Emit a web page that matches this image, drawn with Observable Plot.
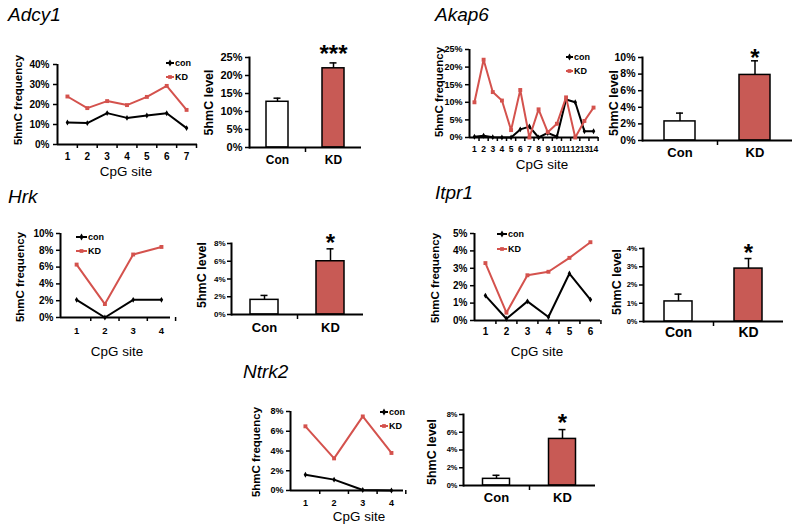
<!DOCTYPE html>
<html><head><meta charset="utf-8">
<script src="https://cdn.jsdelivr.net/npm/d3@7"></script>
<script src="https://cdn.jsdelivr.net/npm/@observablehq/plot@0.6"></script>
<style>
body{margin:0;background:#fff;}
#fig{position:relative;width:800px;height:530px;overflow:hidden;background:#fff;}
</style></head><body><div id="fig"></div>
<script>
// ---------- data ----------
const groups = ["Con", "KD"];
const seriesNames = ["con", "KD"];

const adcy1Sites = [1, 2, 3, 4, 5, 6, 7];
const adcy1Con = [11.0, 10.7, 15.7, 13.3, 14.5, 15.6, 8.2];
const adcy1KD = [24.0, 18.2, 21.7, 19.7, 23.8, 29.3, 17.3];
const adcy1Level = [12.7, 22.0];
const adcy1Err = [1.0, 1.5];
const adcy1Sig = ["", "***"];
const adcy1FreqTicks = [0, 10, 20, 30, 40];
const adcy1LevelTicks = [0, 5, 10, 15, 20, 25];

const akap6Sites = [1, 2, 3, 4, 5, 6, 7, 8, 9, 10, 11, 12, 13, 14];
const akap6Con = [0.2, 0.5, 0.1, 0, 0, 2.3, 3.1, 0, 1.3, 0.2, 10.8, 10.0, 1.8, 1.8];
const akap6KD = [10.0, 22.1, 12.9, 10.5, 2.1, 13.5, 0, 8.0, 1.5, 3.9, 11.4, 0, 4.7, 8.5];
const akap6Level = [2.3, 7.9];
const akap6Err = [1.0, 1.7];
const akap6Sig = ["", "*"];
const akap6FreqTicks = [0, 5, 10, 15, 20, 25];
const akap6LevelTicks = [0, 2, 4, 6, 8, 10];

const hrkSites = [1, 2, 3, 4];
const hrkCon = [2.1, 0, 2.1, 2.1];
const hrkKD = [6.3, 1.6, 7.5, 8.4];
const hrkLevel = [1.65, 6.0];
const hrkErr = [0.5, 1.4];
const hrkSig = ["", "*"];
const hrkFreqTicks = [0, 2, 4, 6, 8, 10];
const hrkLevelTicks = [0, 2, 4, 6, 8];

const itpr1Sites = [1, 2, 3, 4, 5, 6];
const itpr1Con = [1.43, 0.1, 1.1, 0.2, 2.7, 1.2];
const itpr1KD = [3.3, 0.45, 2.6, 2.8, 3.6, 4.5];
const itpr1Level = [1.1, 2.9];
const itpr1Err = [0.4, 0.55];
const itpr1Sig = ["", "*"];
const itpr1FreqTicks = [0, 1, 2, 3, 4, 5];
const itpr1LevelTicks = [0, 1, 2, 3, 4];

const ntrk2Sites = [1, 2, 3, 4];
const ntrk2Con = [1.6, 1.1, 0.05, 0];
const ntrk2KD = [6.5, 3.25, 7.5, 3.8];
const ntrk2Level = [0.75, 5.25];
const ntrk2Err = [0.4, 1.05];
const ntrk2Sig = ["", "*"];
const ntrk2FreqTicks = [0, 2, 4, 6, 8];
const ntrk2LevelTicks = [0, 2, 4, 6, 8];

// ---------- style ----------
const FONT = "'Liberation Sans', Arial, sans-serif";
const RED = "#d4524d";
const BARRED = "#c85a55";
const fig = document.getElementById("fig");

function place(svg, left, top) {
  svg.style.position = "absolute";
  svg.style.left = left + "px";
  svg.style.top = top + "px";
  svg.style.overflow = "visible";
  svg.style.maxWidth = "none";
  fig.appendChild(svg);
}

function linePanel(sites, con, kd, yTicks, L) {
  const ml = 36, mr = 6, mt = 6, mb = 26;
  const width = L.x1 - L.x0 + ml + mr;
  const height = L.yBot - L.yTop + mt + mb;
  const rows = sites.map((s, i) => ({site: s, con: con[i], kd: kd[i]}));
  const bounds = sites.map(s => s + 0.5);
  const ymax = yTicks[yTicks.length - 1];
  const svg = Plot.plot({
    width, height, marginLeft: ml, marginRight: mr, marginTop: mt, marginBottom: mb,
    style: {fontFamily: FONT, background: "transparent", color: "black"},
    x: {domain: L.xd},
    y: {domain: [0, ymax]},
    marks: [
      Plot.axisY({ticks: yTicks, tickFormat: d => d + "%", tickSize: 4, tickPadding: L.ypad, fontSize: L.yfs, fontWeight: "bold", strokeWidth: 1.5, label: null}),
      Plot.axisX({ticks: sites, tickFormat: d => String(d), tickSize: 0, tickPadding: L.xpad, fontSize: L.xfs, fontWeight: "bold", label: null}),
      Plot.axisX({ticks: bounds, tickFormat: () => "", tickSize: 4, strokeWidth: 1.5, label: null}),
      Plot.ruleY([0], {stroke: "black", strokeWidth: 2}),
      Plot.ruleX([L.xd[0]], {y1: 0, y2: ymax, stroke: "black", strokeWidth: 2}),
      Plot.line(rows, {x: "site", y: "con", stroke: "black", strokeWidth: 2}),
      Plot.dot(rows, {x: "site", y: "con", r: 1.8, fill: "black", symbol: "diamond"}),
      Plot.line(rows, {x: "site", y: "kd", stroke: RED, strokeWidth: 2}),
      Plot.dot(rows, {x: "site", y: "kd", r: 2.2, fill: RED, symbol: "square"})
    ]
  });
  place(svg, L.x0 - ml, L.yTop - mt);
}

function barPanel(level, err, sig, yTicks, L) {
  const ml = 36, mr = 6, mt = 30, mb = 26;
  const width = 2 * L.step + ml + mr;
  const height = L.yBot - L.yTop + mt + mb;
  const rows = groups.map((g, i) => ({g, v: level[i], top: level[i] + err[i], sig: sig[i]}));
  const ymax = yTicks[yTicks.length - 1];
  const barInset = (L.step - L.bw) / 2;
  const capInset = (L.step - L.cap) / 2;
  const svg = Plot.plot({
    width, height, marginLeft: ml, marginRight: mr, marginTop: mt, marginBottom: mb,
    style: {fontFamily: FONT, background: "transparent", color: "black"},
    x: {domain: groups, padding: 0},
    y: {domain: [0, ymax]},
    color: {domain: groups, range: ["white", BARRED]},
    marks: [
      Plot.barY(rows, {x: "g", y: "v", fill: "g", stroke: "black", strokeWidth: 1.5, insetLeft: barInset, insetRight: barInset}),
      Plot.ruleX(rows, {x: "g", y1: "v", y2: "top", stroke: "black", strokeWidth: 1.5}),
      Plot.tickY(rows, {x: "g", y: "top", stroke: "black", strokeWidth: 1.5, insetLeft: capInset, insetRight: capInset}),
      Plot.text(rows, {x: "g", y: "top", text: "sig", fontSize: 24, fontWeight: "bold", lineAnchor: "middle", dy: L.starDy}),
      Plot.axisY({ticks: yTicks, tickFormat: d => d + "%", tickSize: 4, tickPadding: L.ypad, fontSize: L.yfs, fontWeight: "bold", strokeWidth: 1.5, label: null}),
      Plot.axisX({tickSize: 0, tickPadding: L.xpad, fontSize: L.xfs, fontWeight: "bold", label: null}),
      Plot.ruleY([0], {stroke: "black", strokeWidth: 2}),
      Plot.frame({anchor: "left", stroke: "black", strokeWidth: 2}),
      Plot.ruleX([groups[1]], {y1: 0, y2: 0, dx: -L.step / 2, insetTop: 5, stroke: "black", strokeWidth: 1.5})
    ]
  });
  place(svg, L.x0 - ml, L.yTop - mt);
}

// ---------- panels ----------
linePanel(adcy1Sites, adcy1Con, adcy1KD, adcy1FreqTicks,
  {x0: 57, x1: 197, yTop: 64, yBot: 144, xd: [0.5, 7.55], yfs: 10, ypad: 4, xfs: 10, xpad: 8});
barPanel(adcy1Level, adcy1Err, adcy1Sig, adcy1LevelTicks,
  {x0: 249, step: 56, bw: 22, cap: 7, yTop: 57, yBot: 147, yfs: 11, ypad: 3, xfs: 12, xpad: 8, starDy: -9});

linePanel(akap6Sites, akap6Con, akap6KD, akap6FreqTicks,
  {x0: 469, x1: 598, yTop: 49, yBot: 137, xd: [0.46, 14.54], yfs: 9, ypad: 3, xfs: 8.5, xpad: 8});
barPanel(akap6Level, akap6Err, akap6Sig, akap6LevelTicks,
  {x0: 642, step: 75, bw: 31, cap: 7, yTop: 57, yBot: 140, yfs: 10.5, ypad: 3, xfs: 13, xpad: 7, starDy: -3});

linePanel(hrkSites, hrkCon, hrkKD, hrkFreqTicks,
  {x0: 60, x1: 170, yTop: 233, yBot: 317, xd: [0.43, 4.32], yfs: 10, ypad: 3, xfs: 9.5, xpad: 10});
barPanel(hrkLevel, hrkErr, hrkSig, hrkLevelTicks,
  {x0: 231, step: 66, bw: 28, cap: 7, yTop: 243, yBot: 314, yfs: 8, ypad: 2, xfs: 13, xpad: 8, starDy: -6});

linePanel(itpr1Sites, itpr1Con, itpr1KD, itpr1FreqTicks,
  {x0: 474, x1: 600, yTop: 233, yBot: 320, xd: [0.48, 6.48], yfs: 10, ypad: 3, xfs: 10, xpad: 7});
barPanel(itpr1Level, itpr1Err, itpr1Sig, itpr1LevelTicks,
  {x0: 643, step: 70, bw: 28, cap: 7, yTop: 248, yBot: 321, yfs: 7.5, ypad: 2, xfs: 14, xpad: 6, starDy: -5});

linePanel(ntrk2Sites, ntrk2Con, ntrk2KD, ntrk2FreqTicks,
  {x0: 290, x1: 403, yTop: 411, yBot: 490, xd: [0.48, 4.42], yfs: 9, ypad: 3, xfs: 9, xpad: 9});
barPanel(ntrk2Level, ntrk2Err, ntrk2Sig, ntrk2LevelTicks,
  {x0: 463, step: 66, bw: 27, cap: 7, yTop: 414, yBot: 485, yfs: 7.5, ypad: 2, xfs: 13, xpad: 7, starDy: -6});

// ---------- text overlay: titles, axis titles, legends ----------
const overlay = d3.create("svg").attr("width", 800).attr("height", 530)
  .style("position", "absolute").style("left", "0px").style("top", "0px")
  .style("font-family", FONT);
fig.insertBefore(overlay.node(), fig.firstChild);

function txt(s, x, y, o = {}) {
  overlay.append("text")
    .attr("transform", `translate(${x},${y})${o.rot ? " rotate(-90)" : ""}${o.sx ? ` scale(${o.sx},1)` : ""}`)
    .attr("font-size", o.size)
    .attr("font-weight", o.weight || "normal")
    .attr("font-style", o.italic ? "italic" : "normal")
    .attr("text-anchor", o.anchor || "start")
    .attr("fill", "black")
    .text(s);
}

[["Adcy1", 8, 21], ["Akap6", 435, 21], ["Hrk", 8, 203], ["Itpr1", 435, 198.5], ["Ntrk2", 243, 378]]
  .forEach(([s, x, y]) => txt(s, x, y, {size: 19, italic: true}));

[[22, 100], [443, 92], [24, 277], [439, 278], [260, 452]]
  .forEach(([x, y]) => txt("5hmC frequency", x, y, {size: 11.5, weight: "bold", rot: true, anchor: "middle"}));
[[213, 102.5], [618, 103], [206, 275], [621, 282], [436, 452]]
  .forEach(([x, y]) => txt("5hmC level", x, y, {size: 12.5, weight: "bold", rot: true, anchor: "middle"}));

[[126, 176], [542, 168.5], [117, 356], [537, 356], [359, 521]]
  .forEach(([x, y]) => txt("CpG site", x, y, {size: 12, anchor: "middle", sx: 1.12}));

function legend(x, y1, y2, w) {
  [[y1, "black", "diamond"], [y2, RED, "square"]].forEach(([y, c, sym], i) => {
    overlay.append("line").attr("x1", x).attr("x2", x + w).attr("y1", y).attr("y2", y)
      .attr("stroke", c).attr("stroke-width", 2);
    overlay.append("path").attr("transform", `translate(${x + w / 2},${y})`)
      .attr("d", d3.symbol(sym === "square" ? d3.symbolSquare : d3.symbolDiamond, 14)())
      .attr("fill", c);
    txt(seriesNames[i], x + w + 1, y + 3.2, {size: 9, weight: "bold"});
  });
}
legend(166, 63, 77, 8);
legend(566, 57, 71, 7);
legend(76, 237, 251, 11);
legend(497, 234, 249, 10);
legend(380, 412, 426, 8);
</script></body></html>
